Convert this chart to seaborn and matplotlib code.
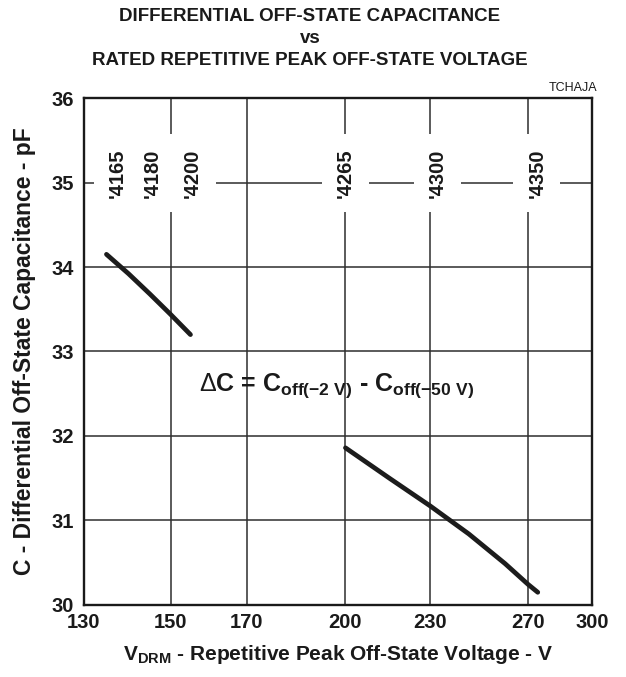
import numpy as np
import pandas as pd
import seaborn as sns
import matplotlib.pyplot as plt
from matplotlib.ticker import NullLocator

# values
volts_low = [135, 140, 145, 150, 155]
cap_low = [34.15, 33.92, 33.68, 33.44, 33.20]
volts_high = [200, 215, 230, 245, 260, 270, 274.4]
cap_high = [31.86, 31.50, 31.17, 30.84, 30.49, 30.245, 30.15]

x_ticks = [130, 150, 170, 200, 230, 270, 300]
y_ticks = [30, 31, 32, 33, 34, 35, 36]

# device type labels and the rated voltage they sit at
part_names = ["'4165", "'4180", "'4200", "'4265", "'4300", "'4350"]
part_volts = [137.4, 145.5, 155.4, 200, 232.6, 274]
part_label_y = 35.11

df = pd.concat([
    pd.DataFrame({'volts': volts_low, 'cap': cap_low, 'part': 'low'}),
    pd.DataFrame({'volts': volts_high, 'cap': cap_high, 'part': 'high'}),
])

sns.set_style('white')
plt.rcParams['font.family'] = ['Liberation Sans', 'DejaVu Sans']
plt.rcParams['mathtext.fontset'] = 'custom'
plt.rcParams['mathtext.rm'] = 'Liberation Sans'
plt.rcParams['mathtext.bf'] = 'Liberation Sans:bold'
plt.rcParams['mathtext.it'] = 'Liberation Sans:bold'

fig = plt.figure(figsize=(6.26, 6.77), dpi=100)
ax = fig.add_axes([0.1334, 0.1064, 0.8123, 0.7488])

sns.lineplot(data=df, x='volts', y='cap', units='part', estimator=None,
             color='#1c1c1c', lw=3.4, ax=ax, legend=False, zorder=4)

ax.set_xscale('log')
ax.set_xlim(130, 300)
ax.set_ylim(30, 36)
ax.set_xticks(x_ticks)
ax.set_xticklabels([str(v) for v in x_ticks])
ax.xaxis.set_minor_locator(NullLocator())
ax.set_yticks(y_ticks)
ax.set_yticklabels([str(v) for v in y_ticks])
ax.grid(True, color='#2e2e2e', lw=1.1)
ax.tick_params(length=0, labelsize=14.5, colors='#1a1a1a')
ax.tick_params(axis='y', pad=7)
ax.tick_params(axis='x', pad=6)
for lab in ax.get_xticklabels() + ax.get_yticklabels():
    lab.set_fontweight('bold')
for sp in ax.spines.values():
    sp.set_color('#1a1a1a')
    sp.set_linewidth(1.7)

for name, v in zip(part_names, part_volts):
    ax.text(v, part_label_y, name, rotation=90, ha='center', va='center',
            fontsize=14.5, fontweight='bold', color='#1a1a1a', zorder=3,
            bbox=dict(facecolor='white', edgecolor='none', boxstyle='square,pad=0.7'))

ax.text(197, 32.6, r'$\Delta$C = C$_{\mathbf{off(-2\ V)}}$ - C$_{\mathbf{off(-50\ V)}}$',
        ha='center', va='center', fontsize=18, fontweight='bold', color='#1a1a1a')

ax.set_xlabel(r'V$_{\mathbf{DRM}}$ - Repetitive Peak Off-State Voltage - V',
              fontsize=15, fontweight='bold', labelpad=8, color='#1a1a1a')
ax.set_ylabel('C - Differential Off-State Capacitance - pF',
              fontsize=16.5, fontweight='bold', labelpad=11, color='#1a1a1a')

fig.text(0.495, 1 - 8 / 677,
         'DIFFERENTIAL OFF-STATE CAPACITANCE\nvs\nRATED REPETITIVE PEAK OFF-STATE VOLTAGE',
         ha='center', va='top', fontsize=13.5, fontweight='bold', linespacing=1.4,
         color='#1a1a1a')
fig.text(597 / 626, 1 - 88 / 677, 'TCHAJA', ha='right', va='center',
         fontsize=9, color='#1a1a1a')

fig.savefig('out.png', dpi=100)
